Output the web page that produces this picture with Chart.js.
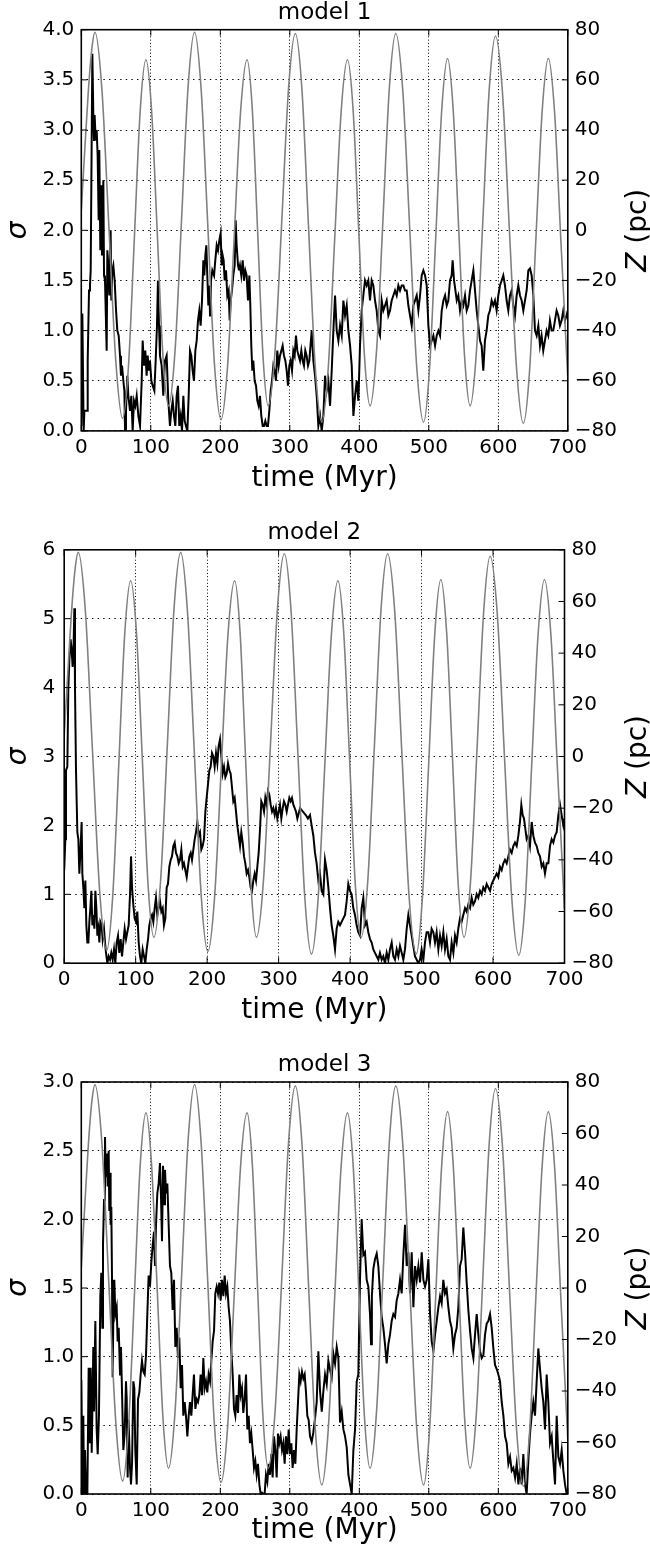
<!DOCTYPE html>
<html>
<head>
<meta charset="utf-8">
<script src="https://cdn.jsdelivr.net/npm/chart.js"></script>
<style>
  html, body { margin: 0; padding: 0; background: #fff; }
  #wrap { position: relative; width: 650px; height: 1548px; }
  canvas { position: absolute; left: 0; }
</style>
</head>
<body>
<div id="wrap">
  <canvas id="c1" width="650" height="516" style="top:0px"></canvas>
  <canvas id="c2" width="650" height="520" style="top:516px"></canvas>
  <canvas id="c3" width="650" height="512" style="top:1036px"></canvas>
</div>
<script>
// sigma(t) for the three models and the vertical position Z(t).
// each entry is [time (Myr), value]

const model1Sigma = [
  [0,0.05],[1.5,1.17],[3.4,0],[4.4,0.2],[8.7,0.2],[9.2,0.7],[11.1,1.4],[12.5,1.45],[13.5,1.6],[15.9,3.76],
  [17.3,3.15],[18.3,2.9],[19.2,3.15],[20.7,2.9],[22.1,3.0],[23.5,2.75],[25.0,2.1],[25.9,2.8],[27.4,1.8],[28.8,2.45],
  [29.8,1.75],[31.7,2.5],[32.7,1.55],[34.1,1.5],[36.5,0.8],[37.5,1.8],[38.9,1.65],[40.3,1.35],[42.2,2.0],[43.2,1.3],
  [44.6,1.6],[46.1,1.65],[48.0,1.5],[50.0,1.2],[51.8,1.0],[53.8,0.95],[55.7,0.75],[57.1,0.55],[58.6,0.65],[60.5,0.5],
  [62.0,0.4],[62.9,0],[64.3,0.2],[66.2,0.55],[67.7,0.35],[70.1,0.2],[72.0,0.35],[73.9,0],[75.8,0.3],[77.7,0.25],
  [79.7,0.35],[82.1,0.15],[84.5,0.05],[86.9,0.5],[88.3,0.9],[90.2,0.65],[92.1,0.8],[94.0,0.55],[95.5,0.75],[97.4,0.6],
  [98.8,0.7],[100.8,0.5],[102.7,0.45],[105.1,0.4],[107.0,0.7],[108.9,1.05],[110.3,1.5],[111.8,1.05],[113.2,0.75],[115.6,0.65],
  [118.0,0.35],[120.4,0.7],[122.8,0.75],[125.2,0.3],[127.6,0.05],[129.5,0.2],[131.5,0.3],[133.4,0.15],[135.3,0.05],[137.2,0.35],
  [139.1,0.45],[141.0,0.05],[143.0,0.15],[144.9,0],[146.8,0.35],[148.7,0.1],[150.6,0.05],[152.6,0],[154.5,0.35],[156.4,0.8],
  [158.3,0.75],[160.2,0.6],[162.1,0.5],[164.1,0.8],[166.0,0.9],[167.9,1.1],[169.8,1.2],[171.7,1.05],[173.7,1.3],[175.6,1.7],
  [177.0,1.55],[178.5,1.75],[179.9,1.85],[181.3,1.55],[182.8,1.25],[184.2,1.45],[185.2,1.15],[186.6,1.5],[188.5,1.6],[191.0,1.55],
  [192.8,1.7],[194.8,1.85],[196.7,1.8],[198.6,1.9],[200.5,1.97],[202.0,1.65],[203.4,1.75],[204.8,1.7],[206.3,1.5],[208.2,1.6],
  [210.1,1.35],[212.0,1.4],[213.5,1.1],[214.9,1.3],[216.8,1.4],[218.7,1.55],[220.7,1.65],[222.1,2.1],[223.5,1.85],[225.5,1.65],
  [226.9,1.6],[228.3,1.65],[230.2,1.55],[232.2,1.7],[234.1,1.5],[236.0,1.6],[237.9,1.55],[239.8,1.3],[241.8,1.55],[243.2,1.25],
  [244.6,0.85],[246.1,0.6],[247.5,0.7],[249.4,0.5],[251.4,0.45],[253.3,0.3],[255.2,0.25],[257.1,0.35],[259.0,0.15],[261.0,0.05],
  [262.9,0.05],[264.8,0.1],[266.7,0.05],[268.6,0.05],[270.5,0.2],[272.5,0.4],[274.4,0.5],[276.3,0.65],[278.2,0.6],[280.1,0.5],
  [282.0,0.8],[284.0,0.65],[285.9,0.75],[287.8,0.8],[289.7,0.85],[291.6,0.75],[293.6,0.7],[295.5,0.6],[297.4,0.45],[299.3,0.65],
  [301.2,0.7],[303.2,0.6],[305.1,0.8],[307.0,0.75],[308.9,0.95],[310.8,0.8],[312.7,0.75],[314.7,0.7],[316.6,0.8],[318.5,0.7],
  [320.4,0.65],[322.3,0.8],[324.2,0.75],[326.2,0.65],[328.1,0.7],
  [331.5,1.0],[333.9,0.7],[336.3,0.55],[338.7,0.35],[341.1,0.05],[343.5,0.15],[345.9,0],[348.3,0.15],[350.7,0.55],[353.1,0.4],
  [355.5,0.5],[357.9,0.25],[360.3,0.6],[362.7,1.0],[365.1,1.35],[367.5,1.0],[369.9,0.9],[372.3,1.05],[374.7,0.95],[377.1,1.3],
  [379.5,1.15],[381.9,1.25],[384.3,1.0],[386.7,0.85],[389.1,0.65],[391.5,0.15],[393.9,0.35],[396.3,0.5],[398.7,0.3],[401.0,0.85],
  [403.4,1.2],[405.8,1.35],[408.2,1.5],[410.6,1.45],[413.0,1.5],[415.4,1.3],[417.8,1.5],[420.2,1.45],[422.6,1.3],[425.0,1.2],
  [427.4,1.0],[429.8,0.95],[432.2,1.3],[434.6,1.2],[437.0,1.25],[439.4,1.3],[441.8,1.15],[444.2,1.2],[446.6,1.3],[449.0,1.35],
  [451.4,1.4],[453.8,1.35],[456.2,1.45],[458.6,1.4],[461.0,1.45],[463.4,1.45],[465.8,1.4],[468.2,1.4],[470.6,1.25],[473.0,1.15],
  [475.4,1.05],[477.8,1.25],[480.2,1.3],[482.6,1.35],[485.0,1.2],[487.4,1.35],[489.8,1.55],[492.2,1.6],[494.6,1.55],[497.0,1.45],
  [499.4,1.05],[501.8,0.85],[504.2,0.9],[506.6,0.95],[509.0,0.85],[511.4,0.95],[513.8,1.0],[516.2,0.95],[518.6,1.2],[521.0,1.3],
  [523.4,1.35],[525.8,1.25],[528.1,1.3],[530.5,1.5],[532.9,1.55],[534.3,1.7],[536.3,1.5],[538.3,1.4],[540.2,1.3],[542.5,1.35],
  [544.9,1.2],[547.3,1.3],[549.7,1.25],[552.1,1.35],[554.5,1.2],[556.9,1.25],[559.3,1.4],[561.7,1.5],[564.1,1.6],[566.5,1.4],
  [568.9,1.2],[571.3,1.05],[573.7,0.9],[576.0,0.85],[578.4,0.6],[580.8,0.9],[583.2,1.0],[585.6,1.15],[588.0,1.2],[590.4,1.3],
  [592.8,1.25],[595.2,1.3],[597.6,1.2],[600.0,1.35],[602.4,1.45],[604.8,1.5],[607.2,1.55],[609.6,1.45],[612.0,1.3],[614.4,1.2],
  [616.8,1.35],[619.2,1.4],[621.6,1.25],[624.0,1.15],[626.4,1.35],[628.8,1.45],[631.2,1.35],[633.6,1.3],[636.0,1.2],[638.4,1.3],
  [640.8,1.4],[643.2,1.6],[645.6,1.62],[648.0,1.55],[650.4,1.35],[652.8,1.0],[655.2,0.95],[657.6,1.05],[660.0,0.85],[662.3,0.95],
  [664.7,0.8],[667.1,0.9],[669.5,1.0],[671.9,0.95],[674.3,1.1],[676.7,1.0],[679.1,1.0],[681.5,1.1],[683.9,1.2],[686.3,1.15],
  [688.7,1.05],[691.1,1.1],[693.5,1.2],[695.9,1.1],[698.3,1.15],[700,1.2]
];

const model2Sigma = [
  [0,1.35],[1.6,1.8],[2.5,2.8],[4.4,2.85],[5.8,4.0],[7.2,4.4],[9.0,4.7],[10.4,4.55],[11.8,4.3],[13.2,4.65],
  [14.2,5.15],[15.1,4.0],[16.5,2.8],[18.4,1.9],[19.8,1.8],[21.2,1.3],[22.6,1.6],[24.4,2.05],[25.4,1.3],[26.8,1.1],
  [28.2,0.8],[29.6,1.2],[31.0,0.55],[32.4,0.3],[33.8,0.3],[35.2,0.6],[36.6,0.8],[38.0,1.05],[39.4,0.55],[40.8,0.7],
  [42.2,0.5],[43.6,1.05],[45.0,0.8],[46.4,0.4],[47.8,0.5],[49.2,0.3],[50.6,0.6],[52.4,0.55],[53.8,0.35],[55.7,0.5],
  [57.1,0.3],[58.5,0.15],[60.4,0],[62.2,0.1],[64.1,0.05],[65.9,0.15],[67.8,0.05],[69.7,0.2],[71.5,0],[73.4,0.3],
  [75.3,0.4],[77.1,0.15],[79.0,0.35],[80.9,0.1],[82.7,0.3],[84.6,0.5],[86.5,0.35],[88.3,0.45],[90.2,0.55],[92.1,1.0],
  [93.5,1.55],[94.9,1.1],[96.7,0.85],[98.6,0.65],[100.5,0.6],[102.3,0.75],[104.2,0.3],[106.1,0.1],[107.9,0],[109.8,0.2],
  [111.7,0.1],[113.5,0],[115.4,0.2],[117.3,0.35],[119.1,0.55],[121.0,0.65],[122.9,0.7],[124.7,0.6],[126.6,0.8],[128.4,0.95],
  [130.3,0.7],[132.2,0.8],[134.0,0.9],[135.9,0.75],[137.8,0.8],[139.6,0.55],[141.5,0.65],[143.4,1.1],[145.2,1.15],[147.1,1.4],
  [149.0,1.5],[150.8,1.55],[152.7,1.7],[154.6,1.75],[156.4,1.6],[158.3,1.55],[160.2,1.45],[162.0,1.5],[163.9,1.65],[165.8,1.4],
  [167.6,1.45],[169.5,1.35],[171.4,1.25],[173.2,1.4],[175.1,1.55],[177.0,1.6],[178.8,1.5],[180.7,1.65],[182.6,1.8],[184.4,1.9],
  [186.3,2.05],[188.2,1.85],[190.0,1.9],[191.9,1.65],[193.7,1.7],[195.6,1.8],[197.5,2.2],[199.3,2.4],[201.2,2.6],[203.1,2.8],
  [204.9,2.85],[206.8,3.05],[208.7,3.0],[210.5,2.85],[212.4,3.05],[214.3,2.9],[216.1,3.15],[218.0,3.25],[219.9,3.0],[221.7,2.75],
  [223.6,2.85],[225.5,2.7],[227.3,2.75],[229.2,2.9],[231.1,2.8],[232.9,2.75],[234.8,2.55],[236.6,2.35],[238.5,2.4],[240.4,2.2],
  [242.2,2.0],[244.1,1.85],[246.0,1.7],[247.8,1.9],[249.7,1.75],[251.6,1.55],[253.4,1.45],[255.3,1.3],[257.2,1.35],[259.0,1.25],
  [260.9,1.1],[262.8,1.05],[264.6,1.2],[266.5,1.3],[268.4,1.2],[270.2,1.4],[272.1,1.6],[274.0,1.95],[275.8,2.35],[277.7,2.3],
  [279.6,2.2],[281.4,2.4],[283.3,2.3],[285.2,2.5],[287.0,2.45],[288.9,2.3],[290.8,2.2],[292.6,2.25],[294.5,2.15],[296.3,2.25],
  [298.2,2.1],[300.1,2.2],[301.9,2.3],[303.8,2.1],[305.7,2.25],[307.5,2.35],[309.4,2.3],[311.3,2.2],[313.1,2.3],[315.0,2.4],
  [316.9,2.35],[318.7,2.4],[320.6,2.3],[322.5,2.25],[324.3,2.2],[326.2,2.1],[330,2.25],[334,2.2],[338,2.15],[341,2.1],
  [343.9,2.15],[346.2,2.0],[348.6,1.85],[350.9,1.6],[353.2,1.45],[355.6,1.2],[357.9,1.3],[360.2,1.05],[362.6,1.0],[364.9,1.5],
  [367.2,1.35],[369.6,1.1],[371.9,0.8],[374.2,0.55],[376.5,0.4],[378.9,0.2],[381.2,0.5],[383.5,0.6],[385.9,0.55],[388.2,0.6],
  [390.5,0.65],[392.9,0.7],[395.2,0.9],[397.5,1.15],[399.9,1.05],[402.2,1.0],[404.5,0.8],[406.9,0.7],[409.2,0.55],[411.5,0.45],
  [413.9,0.4],[416.2,0.8],[418.5,0.95],[420.9,0.55],[423.2,0.6],[425.5,0.45],[427.9,0.35],[430.2,0.3],[432.5,0.2],[434.8,0.15],
  [437.2,0.1],[439.5,0.05],[441.8,0.15],[444.2,0.05],[446.5,0.1],[448.8,0],[451.2,0.15],[453.5,0.05],[455.8,0.2],[458.2,0.3],
  [460.5,0.1],[462.8,0.05],[465.2,0.2],[467.5,0.1],[469.8,0.25],[472.2,0.15],[474.5,0.05],[476.8,0.2],[479.2,0.5],[481.5,0.7],
  [483.8,0.55],[486.2,0.4],[488.5,0.25],[490.8,0.1],[493.2,0.05],[495.5,0],[497.8,0.05],[500.1,0.2],[502.5,0.05],[504.8,0.3],
  [507.1,0.45],[509.5,0.45],[511.8,0.3],[514.1,0.5],[516.5,0.45],[518.8,0.3],[521.1,0.45],[523.5,0.2],[525.8,0.4],[528.1,0.25],
  [530.5,0.45],[532.8,0.2],[535.1,0.35],[537.5,0.1],[539.8,0.05],[542.1,0.3],[544.5,0.15],[546.8,0.4],[549.1,0.3],[551.4,0.5],
  [553.8,0.65],[556.1,0.6],[558.4,0.7],[560.8,0.8],[563.1,0.75],[565.4,0.85],[567.8,0.8],[570.1,0.95],[572.4,0.85],[574.8,0.9],
  [577.1,1.0],[579.4,0.95],[581.8,1.05],[584.1,1.0],[586.4,1.1],[588.8,1.05],[591.1,1.15],[593.4,1.1],[595.8,1.05],[598.1,1.15],
  [600.4,1.2],[602.7,1.25],[605.1,1.3],[607.4,1.25],[609.7,1.4],[612.1,1.35],[614.4,1.45],[616.7,1.5],[619.1,1.45],[621.4,1.55],
  [623.7,1.65],[626.1,1.6],[628.4,1.7],[630.7,1.75],[633.1,1.7],[635.4,1.85],[637.7,2.05],[639.6,2.3],[641.5,2.15],[643.3,2.1],
  [645.2,1.95],[647.1,1.8],[649.4,1.85],[651.7,1.7],[654.1,2.05],[656.4,1.85],[658.7,1.75],[661.1,1.7],[663.4,1.6],[665.7,1.55],
  [668.1,1.4],[670.4,1.45],[672.7,1.3],[675.1,1.45],[677.4,1.45],[679.7,1.7],[682.0,1.8],[684.4,1.75],[686.7,1.85],[689.0,1.9],
  [691.4,2.15],[693.7,2.3],[696.0,2.15],[698.4,2.0],[700,2.1]
];

const model3Sigma = [
  [0,0.83],[1.9,0],[2.9,0.57],[3.9,0],[5.3,0.32],[6.8,0],[8.7,0],[10.6,0.92],[12.0,0.37],[13.5,0.92],
  [15.0,0.3],[17.3,1.07],[18.3,0.6],[20.2,1.26],[22.1,0.47],[23.6,0.29],[25.4,0.57],[27.4,1.44],[28.8,1.61],[30.3,1.21],
  [31.2,1.81],[32.7,2.14],[34.1,2.6],[35.1,2.31],[36.5,2.48],[38.0,2.24],[39.4,2.5],[40.3,2.06],[41.3,2.34],[42.2,1.96],
  [43.2,2.09],[44.2,1.56],[45.1,0.85],[46.1,1.29],[47.5,1.56],[49.0,1.31],[50.9,1.36],[52.3,1.11],[53.8,1.21],[55.7,0.87],
  [57.1,1.07],[58.6,0.74],[60.5,0.32],[62.4,0.44],[64.3,0.82],[65.3,0.7],[66.7,0.12],[68.1,0.54],[70.1,0.19],[71.5,0.07],
  [73.0,0.22],[74.9,0.82],[76.3,0.77],[77.7,0.32],[79.7,0.07],[81.6,0.69],[83.5,0.74],[85.4,0.87],[87.3,0.97],[89.3,0.89],
  [91.2,0.87],[93.1,1.01],[95.0,1.31],[96.9,1.59],[98.8,1.51],[100.8,1.69],[102.7,1.81],[104.6,1.91],[106.0,1.66],[107.5,1.96],
  [109.4,2.19],[111.3,2.26],[113.2,2.41],[114.7,2.16],[116.1,1.84],[117.6,2.39],[119.0,2.11],[120.4,2.36],[121.9,2.19],[123.8,2.26],
  [125.7,1.96],[127.6,1.66],[129.5,1.61],[131.4,1.34],[133.4,1.56],[135.3,1.07],[137.2,1.21],[139.1,0.99],[141.0,1.14],[143.0,0.77],
  [144.9,0.94],[146.8,0.57],[148.7,0.67],[150.6,0.57],[152.6,0.42],[154.5,0.57],[156.4,0.67],[158.3,0.57],[160.2,0.72],[162.1,0.87],
  [164.1,0.62],[166.0,0.69],[167.9,0.67],[169.8,0.72],[171.7,0.87],[173.7,0.72],[175.6,0.99],[177.5,0.77],[179.4,0.82],[181.3,0.74],
  [183.2,0.87],[185.2,0.82],[187.1,0.97],[189.0,1.11],[191.0,1.19],[192.8,1.46],[194.8,1.51],[196.7,1.46],[198.6,1.54],[200.5,1.41],
  [202.4,1.56],[204.4,1.44],[206.3,1.59],[208.2,1.46],[210.1,1.51],[212.0,1.36],[213.9,1.26],[215.9,1.04],[217.8,0.87],[219.7,0.62],
  [221.6,0.57],[223.5,0.72],[225.5,0.59],[227.4,0.87],[229.3,0.72],[231.2,0.77],[233.1,0.59],[235.0,0.69],[237.0,0.87],[238.9,0.47],
  [240.8,0.57],[242.7,0.37],[244.6,0.44],[246.6,0.32],[248.5,0.19],[250.4,0.24],[252.3,0.14],[254.2,0.22],[256.2,0.07],[258.1,0],
  [260.0,0.01],[261.9,0],[263.8,0],[265.7,0.14],[267.7,0.09],[269.6,0.22],[271.5,0.14],[273.4,0.29],[275.3,0.12],[277.2,0.42],
  [279.2,0.32],[281.1,0.12],[283.0,0.44],[284.9,0.37],[286.8,0.42],[288.8,0.32],[290.7,0.37],[292.6,0.22],[294.5,0.42],[296.4,0.29],
  [298.4,0.47],[300.3,0.29],[302.2,0.37],[304.1,0.19],[306.0,0.32],[308.0,0.22],[309.9,0.47],[311.8,0.67],[313.7,0.87],[315.6,0.82],
  [317.5,0.89],[319.5,0.84],[321.4,0.87],[323.3,0.74],[325.2,0.57],[327.1,0.54],
  [329.1,0.42],[331.5,0.38],[333.9,0.45],[336.3,0.55],[338.7,0.67],[341.1,1.04],[343.5,0.75],[346.0,0.6],[348.3,0.75],[350.7,0.87],
  [353.1,0.8],[355.5,0.97],[358.0,0.9],[360.3,0.85],[362.7,1.02],[365.1,0.95],[367.5,1.07],[369.9,0.99],[372.3,0.52],[374.7,0.6],
  [377.1,0.47],[379.5,0.42],[381.9,0.34],[384.3,0.14],[386.7,0.07],[389.1,0],[391.5,0.32],[393.9,0.47],[396.3,0.82],[398.6,0.87],
  [401.0,1.56],[403.4,2.0],[405.8,1.74],[408.2,1.76],[410.6,1.56],[413.0,1.51],[415.4,1.31],[416.9,1.09],[418.1,1.44],[420.2,1.64],
  [422.6,1.71],[425.0,1.75],[427.4,1.66],[429.8,1.46],[432.2,1.29],[434.6,1.21],[437.0,1.09],[439.4,0.95],[441.8,1.09],[444.2,1.16],
  [446.6,1.26],[449.0,1.31],[451.4,1.29],[453.8,1.41],[456.2,1.46],[458.6,1.56],[461.0,1.46],[463.4,1.74],[465.8,1.96],[468.2,1.66],
  [470.6,1.76],[473.0,1.46],[475.4,1.76],[477.8,1.36],[480.2,1.66],[482.6,1.56],[485.0,1.66],[487.4,1.54],[489.8,1.76],[492.2,1.56],
  [494.6,1.51],[497.0,1.56],[499.4,1.71],[501.8,1.31],[504.2,1.11],[506.6,1.04],[509.0,1.16],[511.4,1.26],[513.8,1.36],[516.2,1.44],
  [518.5,1.39],[520.9,1.56],[523.3,1.46],[525.7,1.49],[528.1,1.36],[530.5,1.26],[532.9,1.21],[535.3,1.06],[537.7,1.16],[540.1,1.21],
  [542.5,1.36],[544.9,1.66],[547.3,1.71],[549.7,1.94],[552.1,1.76],[554.5,1.54],[556.9,1.34],[559.3,1.19],[561.7,1.06],[564.1,0.99],
  [566.5,1.16],[568.9,1.31],[571.3,1.16],[573.7,1.04],[576.1,0.99],[578.5,1.01],[580.9,1.16],[583.3,1.24],[585.7,1.26],[588.1,1.31],
  [590.5,1.21],[592.9,1.06],[595.3,0.94],[597.7,0.91],[600.1,0.87],[602.5,0.82],[604.9,0.67],[607.3,0.57],[609.7,0.42],[612.1,0.37],
  [614.5,0.22],[616.9,0.27],[619.3,0.17],[621.7,0.19],[624.1,0.12],[626.5,0.22],[628.9,0.07],[631.3,0.19],[633.6,0.07],[636.0,0.29],
  [638.4,0.07],[640.8,0],[643.2,0.24],[645.6,0.44],[648.0,0.57],[650.4,0.67],[652.8,0.57],[655.2,0.82],[657.6,1.06],[660.0,0.91],
  [662.4,0.77],[664.8,0.67],[667.2,0.47],[669.6,0.87],[672.0,0.67],[674.4,0.37],[676.8,0.42],[679.2,0.24],[681.6,0.07],[684.0,0.57],
  [686.4,0.27],[688.8,0.22],[691.2,0.32],[693.6,0.17],[696.0,0.07],[698.4,0],[700,0]
];

// Z (pc): same orbit drawn in every panel
const zHeight = [
  [0,8],[5,32],[10,55],[15,72],[19.7,79],
  [29.7,56],[39.6,2],[49.6,-52],[59.5,-75],
  [67.9,-54],[76.3,-3.5],[84.6,47],[93,68],
  [101.1,48],[109.3,-1],[117.4,-50],[125.5,-70],
  [134.9,-48],[144.3,4.5],[153.6,57],[163,79],
  [172.5,56],[182,2],[191.5,-53],[201,-75.5],
  [210.4,-54.5],[219.8,-4],[229.1,47],[238.5,68],
  [246.1,48],[253.8,-1],[261.4,-50],[269,-70],
  [278.8,-48],[288.5,4],[298.3,57],[308,78.5],
  [317.5,56],[327,1],[336.5,-54],[346,-76.5],
  [355.3,-55],[364.5,-4],[373.8,47],[383,68],
  [391.1,48],[399.3,-1],[407.4,-50],[415.5,-70],
  [424.8,-48],[434,4],[443.3,57],[452.5,78.5],
  [462.5,56],[472.5,1],[482.5,-54],[492.5,-76.5],
  [501.1,-55],[509.8,-4],[518.4,47],[527,68.5],
  [535.1,48],[543.3,-1],[551.4,-50],[559.5,-70],
  [568.6,-48],[577.8,4],[586.9,56],[596,77.5],
  [606,55],[616,0],[626,-54],[636,-77],
  [645,-56],[654,-4],[663,47],[672,68.5],
  [681,47],[690,-4],[700,-59]
];

const titles = ['model 1', 'model 2', 'model 3'];
const sigmaMax = [4, 6, 3];
const sigmaStep = [0.5, 1, 0.5];
const sigmaDigits = [1, 0, 1];
const timeRange = [0, 700, 100];
const zRange = [-80, 80, 20];

const FONT = "'DejaVu Sans', sans-serif";
const TICK = 6;
const LABEL = 28;

// plot-area placement inside each canvas (left axis width, right axis width, top, bottom axis height)
const boxes = [
  { id: 'c1', left: 81.3, right: 82.2, top: 29.7, bottom: 85.1, xTitlePad: 23, yPad: 7 },
  { id: 'c2', left: 64.2, right: 85.5, top: 33.8, bottom: 72.8, xTitlePad: 11, yPad: 9 },
  { id: 'c3', left: 81.3, right: 82.2, top: 46, bottom: 54, xTitlePad: 3, yPad: 7 },
];

const frame = {
  id: 'frame',
  afterDraw(chart) {
    const { ctx, chartArea: a } = chart;
    const { x, y, z } = chart.scales;
    ctx.save();
    ctx.strokeStyle = '#000';
    ctx.lineWidth = 1;
    ctx.beginPath();
    x.ticks.forEach(t => {
      const px = x.getPixelForValue(t.value);
      ctx.moveTo(px, a.bottom); ctx.lineTo(px, a.bottom - TICK);
      ctx.moveTo(px, a.top); ctx.lineTo(px, a.top + TICK);
    });
    y.ticks.forEach(t => {
      const py = y.getPixelForValue(t.value);
      ctx.moveTo(a.left, py); ctx.lineTo(a.left + TICK, py);
    });
    z.ticks.forEach(t => {
      const py = z.getPixelForValue(t.value);
      ctx.moveTo(a.right, py); ctx.lineTo(a.right - TICK, py);
    });
    ctx.stroke();
    ctx.lineWidth = 1.6;
    ctx.strokeRect(a.left, a.top, a.right - a.left, a.bottom - a.top);

    // right axis label, reads bottom to top like matplotlib's
    ctx.translate(646, (a.top + a.bottom) / 2);
    ctx.rotate(-Math.PI / 2);
    ctx.fillStyle = '#000';
    ctx.textBaseline = 'alphabetic';
    ctx.textAlign = 'left';
    const it = `italic ${LABEL}px ${FONT}`, up = `${LABEL}px ${FONT}`;
    ctx.font = it; const w1 = ctx.measureText('Z').width;
    ctx.font = up; const w2 = ctx.measureText(' (pc)').width;
    const x0 = -(w1 + w2) / 2;
    ctx.font = it; ctx.fillText('Z', x0, 0);
    ctx.font = up; ctx.fillText(' (pc)', x0 + w1, 0);
    ctx.restore();
  }
};

const series = [model1Sigma, model2Sigma, model3Sigma];

series.forEach((sig, i) => {
  const b = boxes[i];
  const tickFont = { family: FONT, size: 20 };
  new Chart(document.getElementById(b.id), {
    type: 'line',
    data: {
      datasets: [
        { data: zHeight.map(([t, v]) => ({ x: t, y: v })), yAxisID: 'z',
          borderColor: '#808080', borderWidth: 1.6, pointRadius: 0,
          cubicInterpolationMode: 'monotone', fill: false },
        { data: sig.map(([t, v]) => ({ x: t, y: v })), yAxisID: 'y',
          borderColor: '#000', borderWidth: 2, pointRadius: 0,
          tension: 0, fill: false },
      ]
    },
    options: {
      responsive: false, animation: false, devicePixelRatio: 1,
      layout: { padding: 0 },
      plugins: {
        legend: { display: false },
        tooltip: { enabled: false },
        title: {
          display: true, text: titles[i], color: '#000', fullSize: false,
          font: { family: FONT, size: 23, weight: 'normal', lineHeight: 1 },
          padding: { top: b.top - 28.5, bottom: 5.5 }
        }
      },
      scales: {
        x: {
          type: 'linear', position: 'bottom',
          min: timeRange[0], max: timeRange[1],
          ticks: { stepSize: timeRange[2], color: '#000', font: tickFont, padding: 5,
                   autoSkip: false, maxRotation: 0, minRotation: 0 },
          grid: { color: '#000', lineWidth: 1, drawTicks: false },
          border: { display: false, dash: [1, 2.3] },
          title: { display: true, text: 'time (Myr)', color: '#000',
                   font: { family: FONT, size: LABEL, lineHeight: 1 },
                   padding: { top: 0, bottom: b.xTitlePad } },
          afterFit: s => { s.height = b.bottom; }
        },
        y: {
          type: 'linear', position: 'left',
          min: 0, max: sigmaMax[i],
          ticks: { stepSize: sigmaStep[i], color: '#000', font: tickFont, padding: b.yPad,
                   autoSkip: false, callback: v => Number(v).toFixed(sigmaDigits[i]) },
          grid: { color: '#000', lineWidth: 1, drawTicks: false },
          border: { display: false, dash: [1.4, 4.2] },
          title: { display: true, text: 'σ', color: '#000',
                   font: { family: FONT, size: LABEL, style: 'italic', lineHeight: 1 },
                   padding: { top: 4.5, bottom: 0 } },
          afterFit: s => { s.width = b.left; }
        },
        z: {
          type: 'linear', position: 'right',
          min: zRange[0], max: zRange[1],
          ticks: { stepSize: zRange[2], color: '#000', font: tickFont, padding: 7,
                   autoSkip: false, callback: v => v < 0 ? '\u2212' + (-v) : String(v) },
          grid: { display: false, drawOnChartArea: false, drawTicks: false },
          border: { display: false },
          afterFit: s => { s.width = b.right; }
        }
      }
    },
    plugins: [frame]
  });
});
</script>
</body>
</html>
